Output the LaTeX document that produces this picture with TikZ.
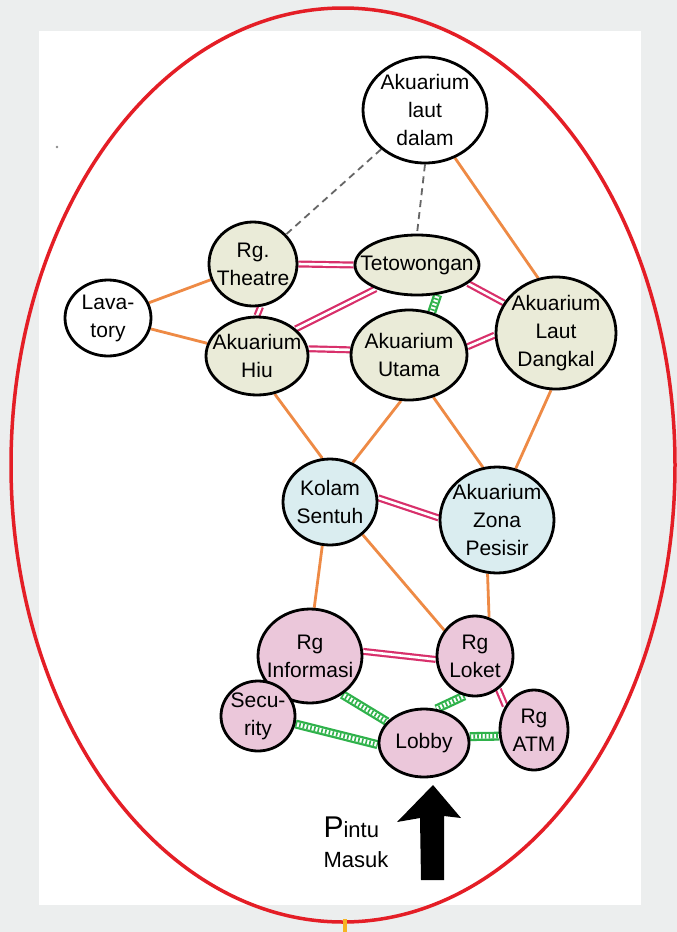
\documentclass[tikz,border=0pt]{standalone}
\usepackage{fontspec}
\setmainfont{Liberation Sans}
\usetikzlibrary{shapes.geometric}
\definecolor{paper}{HTML}{ECEEEE}
\definecolor{ringred}{HTML}{E41E26}
\definecolor{tickorange}{HTML}{F6B323}
\definecolor{orangeline}{HTML}{EE8A45}
\definecolor{pinkline}{HTML}{D8306B}
\definecolor{greenline}{HTML}{2FB24B}
\definecolor{khaki}{HTML}{EAEBD8}
\definecolor{aqua}{HTML}{DAEDF0}
\definecolor{rose}{HTML}{EBC7DA}
\pgfdeclarelayer{back}
\pgfdeclarelayer{links}
\pgfsetlayers{back,links,main}
\begin{document}
\begin{tikzpicture}[x=1pt,y=-1pt,
  room/.style={ellipse, draw=black, line width=2.8pt, inner sep=0pt},
  lbl/.style={align=center, font=\fontsize{21}{28}\selectfont},
  walk/.style={draw=orangeline, line width=2.8pt},
  view/.style={draw=black!60, line width=1.8pt, dash pattern=on 7pt off 5pt},
  link/.style={draw=pinkline, line width=2.2pt, double=white, double distance=2.6pt},
  main route/.style={draw=greenline, line width=9pt,
    postaction={draw=white, line width=4.4pt},
    postaction={draw=greenline, line width=4.4pt, dash pattern=on 1.6pt off 2.2pt}}]
\useasboundingbox (0,0) rectangle (677,932);

% sheet
\begin{pgfonlayer}{back}
  \fill[paper] (0,0) rectangle (677,932);
  \fill[white] (39,31) rectangle (641,905);
  \fill[black!45] (57,147) circle (1.4);
\end{pgfonlayer}

% rooms
\node[room, fill=white, minimum width=124pt, minimum height=106pt,
  label={[lbl]center:{Akuarium\\laut\\dalam}}] (dalam) at (425,110) {};
\node[room, fill=khaki, minimum width=88pt, minimum height=84pt,
  label={[lbl]center:{Rg.\\Theatre}}] (theatre) at (253,264) {};
\node[room, fill=khaki, minimum width=124pt, minimum height=60pt,
  label={[lbl]center:{Tetowongan}}] (tunnel) at (417,265) {};
\node[room, fill=white, minimum width=86pt, minimum height=76pt,
  label={[lbl]center:{Lava-\\tory}}] (lav) at (108,318) {};
\node[room, fill=khaki, minimum width=102pt, minimum height=78pt,
  label={[lbl]center:{Akuarium\\Hiu}}] (hiu) at (257,356) {};
\node[room, fill=khaki, minimum width=116pt, minimum height=90pt,
  label={[lbl]center:{Akuarium\\Utama}}] (utama) at (409,355) {};
\node[room, fill=khaki, minimum width=120pt, minimum height=112pt,
  label={[lbl]center:{Akuarium\\Laut\\Dangkal}}] (dangkal) at (556,333) {};
\node[room, fill=aqua, minimum width=94pt, minimum height=86pt,
  label={[lbl]center:{Kolam\\Sentuh}}] (kolam) at (330,502) {};
\node[room, fill=aqua, minimum width=114pt, minimum height=106pt,
  label={[lbl]center:{Akuarium\\Zona\\Pesisir}}] (pesisir) at (497,520) {};
\node[room, fill=rose, minimum width=104pt, minimum height=94pt,
  label={[lbl]center:{Rg\\Informasi}}] (info) at (310,656) {};
\node[room, fill=rose, minimum width=76pt, minimum height=80pt,
  label={[lbl]center:{Rg\\Loket}}] (loket) at (475,656) {};
\node[room, fill=rose, minimum width=74pt, minimum height=70pt,
  label={[lbl]center:{Secu-\\rity}}] (security) at (258,716) {};
\node[room, fill=rose, minimum width=90pt, minimum height=68pt,
  label={[lbl]center:{Lobby}}] (lobby) at (424,743) {};
\node[room, fill=rose, minimum width=68pt, minimum height=80pt,
  label={[lbl]center:{Rg\\ATM}}] (atm) at (534,730) {};

% entrance
\node[align=left, font=\fontsize{22}{30}\selectfont, anchor=west] (door) at (320,842)
  {{\fontsize{30}{30}\selectfont P}intu\\Masuk};
\fill[black] (421,880) -- (444,880) -- (444,816) -- (461,818) -- (433,785)
  -- (397,822) -- (420,818) -- cycle;

% connections
\begin{pgfonlayer}{links}
  \draw[view] (dalam) -- (theatre);
  \draw[view] (dalam.south) -- (tunnel.north);
  \draw[walk] (dalam.-58) -- (dangkal.108);
  \draw[walk] (lav) -- (theatre);
  \draw[walk] (lav) -- (hiu);
  \draw[walk] (hiu.-65) -- (kolam.100);
  \draw[walk] (utama.-100) -- (kolam.60);
  \draw[walk] (utama.-60) -- (pesisir.105);
  \draw[walk] (dangkal.-95) -- (pesisir.70);
  \draw[walk] (kolam.-100) -- (info.85);
  \draw[walk] (kolam.-45) -- (loket.140);
  \draw[walk] (pesisir.-100) -- (loket.70);

  \draw[link] (theatre.east) -- (tunnel.west);
  \draw[link] (theatre.-80) -- (hiu.90);
  \draw[link] (hiu.35) -- (tunnel.-150);
  \draw[link] (hiu.8) -- (utama.175);
  \draw[link] (tunnel.-20) -- (dangkal.150);
  \draw[link] (utama.8) -- (dangkal.182);
  \draw[link] (kolam.5) -- (pesisir.178);
  \draw[link] (info.5) -- (loket.185);
  \draw[link] (info.-140) -- (security.60);
  \draw[link] (loket.-55) -- (atm.140);

  \draw[main route] (tunnel.-55) -- (utama.62);
  \draw[main route] (info.-50) -- (lobby.150);
  \draw[main route] (loket.-105) -- (lobby.70);
  \draw[main route] (security.-12) -- (lobby.182);
  \draw[main route] (lobby.8) -- (atm.190);
\end{pgfonlayer}

% outline ring and axis tick
\draw[ringred, line width=3.5pt] (343,465) ellipse [x radius=332, y radius=457];
\draw[tickorange, line width=3.5pt] (345,919) -- (345,932);
\end{tikzpicture}
\end{document}
